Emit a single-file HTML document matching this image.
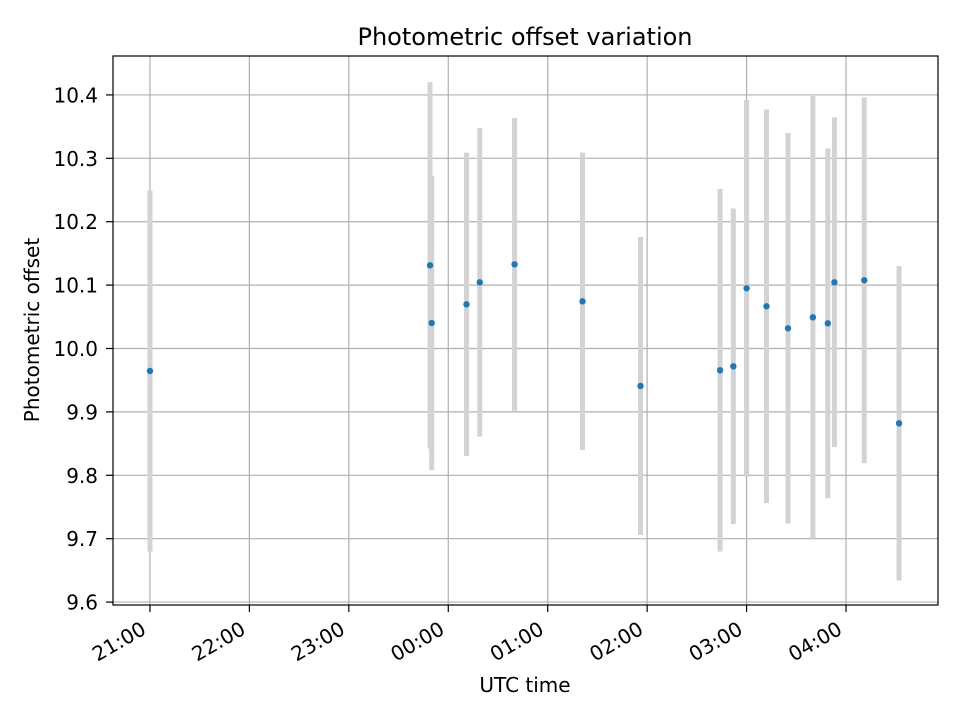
<!DOCTYPE html>
<html><head><meta charset="utf-8"><style>
body{margin:0;background:#fff;font-family:"Liberation Sans","DejaVu Sans",sans-serif}
svg text{font-family:"DejaVu Sans","Liberation Sans",sans-serif}
</style></head><body>
<svg id="chart" width="960" height="720" xmlns="http://www.w3.org/2000/svg">
<rect width="960" height="720" fill="#fff"/>
<g id="grid"></g><g id="bars"></g><g id="pts"></g><g id="ticks"></g>
<rect x="113" y="56" width="825" height="549" fill="none" stroke="#000" stroke-width="1.2"/>
<text x="525" y="45" style="font-size:24px" text-anchor="middle">Photometric offset variation</text>
<text x="525" y="692" style="font-size:20px" text-anchor="middle">UTC time</text>
<text transform="translate(39,330) rotate(-90)" style="font-size:20px" text-anchor="middle">Photometric offset</text>
</svg>
<script>
// minutes after 21:00 UTC
const times=[0,169,170,191,199,220,261,296,344,352,360,372,385,400,409,413,431,452];
const values=[9.9645,10.1312,10.0402,10.0697,10.1044,10.1328,10.0744,9.9409,9.9656,9.9719,10.0950,10.0666,10.0319,10.0492,10.0397,10.1044,10.1076,9.882];
const errors=[0.285,0.289,0.232,0.239,0.2435,0.231,0.2345,0.235,0.286,0.249,0.297,0.3105,0.308,0.349,0.276,0.260,0.2886,0.248];
const xTickMinutes=[0,60,120,180,240,300,360,420];
const xTickLabels=["21:00","22:00","23:00","00:00","01:00","02:00","03:00","04:00"];
const yTicks=[9.6,9.7,9.8,9.9,10.0,10.1,10.2,10.3,10.4];
const yTickLabels=["9.6","9.7","9.8","9.9","10.0","10.1","10.2","10.3","10.4"];
const L=113,R=938,T=56,B=605,xmin=-22.3,xmax=475.5,ymin=9.5954,ymax=10.4614;
const X=m=>L+(m-xmin)/(xmax-xmin)*(R-L);
const Y=v=>B-(v-ymin)/(ymax-ymin)*(B-T);
const NS="http://www.w3.org/2000/svg";
function mk(tag,attrs,parent){const e=document.createElementNS(NS,tag);for(const k in attrs)e.setAttribute(k,attrs[k]);document.getElementById(parent).appendChild(e);return e;}
xTickMinutes.forEach((m,i)=>{
  const x=X(m);
  const g=mk('line',{x1:x,x2:x,y1:T,y2:B,stroke:'#b0b0b0','stroke-width':1.2},'grid');
  
  
  const t=mk('line',{x1:x,x2:x,y1:B,y2:B+7,stroke:'#000','stroke-width':1.2},'ticks');
  
  
  const tx=mk('text',{transform:`translate(${x-2.5},${B+28}) rotate(-30)`,style:'font-size:20px','text-anchor':'end'},'ticks');
  tx.textContent=xTickLabels[i];
  
  
});
yTicks.forEach((v,i)=>{
  const y=Y(v);
  const g=mk('line',{x1:L,x2:R,y1:y,y2:y,stroke:'#b0b0b0','stroke-width':1.2},'grid');
  
  
  const t=mk('line',{x1:L-7,x2:L,y1:y,y2:y,stroke:'#000','stroke-width':1.2},'ticks');
  
  
  const tx=mk('text',{x:L-15,y:y+7.5,style:'font-size:20px','text-anchor':'end'},'ticks');
  tx.textContent=yTickLabels[i];
  
  
});
times.forEach((m,i)=>{
  const x=X(m);
  const b=mk('line',{x1:x,x2:x,y1:Y(values[i]+errors[i]),y2:Y(values[i]-errors[i]),stroke:'#d3d3d3','stroke-width':5},'bars');
  
  
  const p=mk('circle',{cx:x,cy:Y(values[i]),r:3.2,fill:'#1f77b4'},'pts');
  
  
});
</script>
</body></html>
